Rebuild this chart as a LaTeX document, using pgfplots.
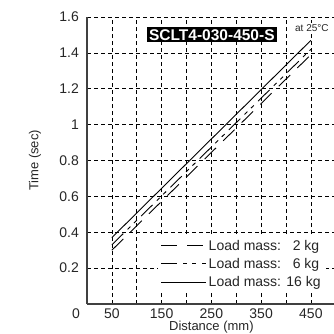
\documentclass[border=0pt]{standalone}
\usepackage{pgfplots}
\pgfplotsset{compat=1.18}
\usepackage{fontspec}
\setmainfont{Liberation Sans}

\newcommand{\fs}[1]{\fontsize{#1}{#1}\selectfont}

\begin{document}
\begin{tikzpicture}
\begin{axis}[
  name=a,
  scale only axis,
  width=248.75pt, height=287pt,
  xmin=0, xmax=500, ymin=0, ymax=1.6,
  axis x line*=bottom, axis y line*=left,
  axis line style={-, line width=1.2pt, color=black!75},
  xtick={50,100,...,450},
  xticklabels={50,,150,,250,,350,,450},
  ytick={0.2,0.4,...,1.6},
  yticklabels={0.2,0.4,0.6,0.8,1,1.2,1.4,1.6},
  major tick length=0pt,
  /pgf/number format/assume math mode=true,
  xticklabel style={anchor=base, inner sep=0pt, yshift=-14.5pt, font=\fs{14}, text=black!85},
  yticklabel style={anchor=east, inner sep=0pt, xshift=-8pt, font=\fs{14}, text=black!85},
  grid=major,
  major grid style={black, line width=0.6pt, dash pattern=on 4pt off 3pt},
  clip=false,
  legend style={at={(rel axis cs:1,0)}, anchor=south east, xshift=-10pt, yshift=12pt,
    draw=none, fill=white, inner xsep=3pt, inner ysep=2pt, font=\fs{14},
    row sep=2.5pt, cells={anchor=west}, text=black!85},
  legend image code/.code={\draw[#1] (0pt,0pt) -- (45pt,0pt);},
]
% 2 kg
\addplot[black, line width=0.9pt, dash pattern=on 16pt off 10pt] coordinates {(50,0.30) (450,1.39)};
\addlegendentry{Load mass:\hphantom{1} 2 kg}
% 6 kg
\addplot[black, line width=0.9pt, dash pattern=on 16pt off 6pt on 4pt off 5pt on 4pt off 6pt] coordinates {(50,0.33) (450,1.42)};
\addlegendentry{Load mass:\hphantom{1} 6 kg}
% 16 kg
\addplot[black, line width=0.9pt] coordinates {(50,0.37) (450,1.47)};
\addlegendentry{Load mass: 16 kg}

\node[fill=black, text=white, font=\bfseries\fs{15.5}, inner xsep=2.5pt, inner ysep=2pt]
  at (axis cs:251,1.50) {SCLT4-030-450-S};
\node[fill=white, font=\fs{10}, inner sep=1pt, text=black!85] at (axis cs:452,1.54) {at 25°C};
\end{axis}
\node[anchor=base, font=\fs{14}, text=black!85] at ([xshift=-11pt, yshift=-14.5pt]a.south west) {0};
\node[anchor=base, font=\fs{13}, text=black!85] at ([yshift=-26.5pt]a.south) {Distance (mm)};
\node[rotate=90, font=\fs{13}, text=black!85] at ([xshift=-52pt]a.west) {Time (sec)};
\pgfresetboundingbox
\path[use as bounding box] ([xshift=-87pt, yshift=-29pt]a.south west) rectangle ([xshift=-1.75pt, yshift=17pt]a.north east);
\end{tikzpicture}
\end{document}
